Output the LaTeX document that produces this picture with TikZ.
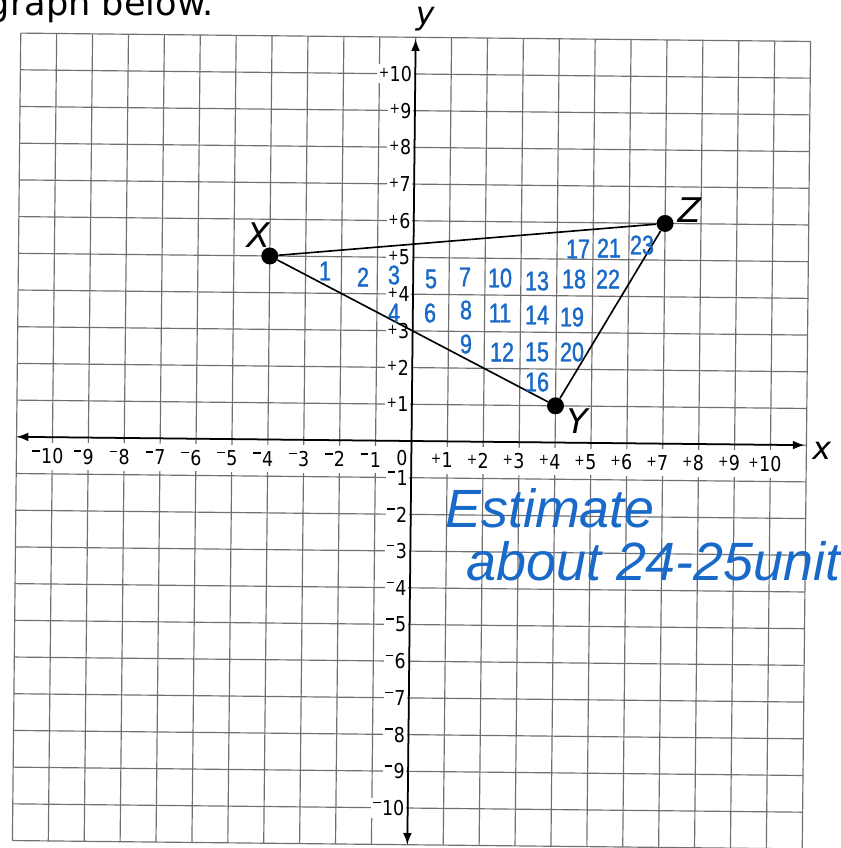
\documentclass[tikz,border=0pt]{standalone}
\usepackage{fontspec}
\setmainfont{DejaVu Sans}
\newfontfamily\labfont[FakeStretch=0.85]{DejaVu Sans}
\newfontfamily\handfont{Liberation Sans}
\newfontfamily\numfont[FakeStretch=0.8,FakeBold=1.2]{Liberation Sans}
\usetikzlibrary{arrows.meta}
\definecolor{pen}{RGB}{25,105,200}
\definecolor{gridc}{RGB}{112,112,112}
\newcommand\msgn{\rule[10.4pt]{6.4pt}{1.3pt}\kern1.2pt}
\newcommand\psgn{\raisebox{3.6pt}{\fontsize{12.5}{12.5}\selectfont +}\kern0.3pt}
\begin{document}
\begin{tikzpicture}[x=0.03cm,y=-0.03cm,
  gridline/.style={draw=gridc,line width=1pt},
  axisline/.style={line width=1.5pt,{Latex[length=10pt,width=7.5pt]}-{Latex[length=10pt,width=7.5pt]}},
  ticklab/.style={fill=white,inner xsep=1.5pt,inner ysep=1.5pt,font=\labfont\fontsize{17.5}{18}\selectfont},
  xticklab/.style={ticklab,inner ysep=5pt},
  ptdot/.style={circle,fill=black,inner sep=0pt,minimum size=14.5pt},
  ptlab/.style={font=\itshape\fontsize{29}{30}\selectfont,inner sep=0pt},
  axlab/.style={font=\itshape\fontsize{27}{28}\selectfont,inner sep=0pt},
  hw/.style={text=pen,font=\numfont\fontsize{23}{24}\selectfont,inner sep=0pt},
  hwbig/.style={text=pen,font=\handfont\itshape\fontsize{46}{48}\selectfont,inner sep=0pt,anchor=base west},
  side/.style={line width=1.4pt}]
\useasboundingbox (0,0) rectangle (840,848);
\clip (0,0) rectangle (840,848);
\node[anchor=base east,font=\fontsize{30}{31}\selectfont,inner sep=0pt] (head) at (214,16) {graph below.};
\begin{scope}[shift={(411.5,441)}, x={(1.077cm,-0.0114cm)}, y={(0.0114cm,1.101cm)}]
  \foreach \i in {-11,...,11} {
    \draw[gridline] (\i,-11) -- (\i,11);
    \draw[gridline] (-11,\i) -- (11,\i);
  }
  \foreach \i in {1,...,10} {
    \node[xticklab] (xp\i) at (\i,-0.52) {\llap{\psgn}\i};
    \node[xticklab] (xm\i) at (-\i,-0.52) {\llap{\msgn}\i};
    \node[ticklab,anchor=east] (yp\i) at (-0.04,\i) {\psgn\i};
    \node[ticklab,anchor=east] (ym\i) at (-0.04,-\i) {\msgn\i};
  }
  \node[ticklab,anchor=east] (orig) at (-0.05,-0.47) {0};
  \coordinate (xl) at (-11,0);
  \coordinate (xr) at (10.95,0);
  \coordinate (yb) at (0,-11);
  \coordinate (yt) at (0,10.95);
  \draw[axisline] (xl) -- (xr);
  \draw[axisline] (yb) -- (yt);
  \node[axlab] (xname) at (11.43,-0.16) {x};
  \node[axlab] (yname) at (0.26,11.5) {y};
  \node[ptdot] (X) at (-4,5) {};
  \node[ptdot] (Y) at (4,1) {};
  \node[ptdot] (Z) at (7,6) {};
  \draw[side] (X) -- (Z);
  \draw[side] (Z) -- (Y);
  \draw[side] (Y) -- (X);
  \node[ptlab] (Xl) at (-4.33,5.56) {X};
  \node[ptlab] (Yl) at (4.61,0.6) {Y};
  \node[ptlab] (Zl) at (7.67,6.38) {Z};
\end{scope}
\foreach \n/\px/\py in {1/325/271,2/363/277,3/394/275,4/394/313,5/431/279,6/430/313,
  7/465/277,8/466/310,9/466/344,10/500/278,11/500/313,12/502/352,13/537/281,
  14/537/315,15/537/352,16/537/382,17/578/249,18/574/279,19/572/317,20/572/352,
  21/609/248,22/608/279,23/642/245} {
  \node[hw] (n\n) at (\px,\py) {\n};
}
\node[hwbig] (est1) at (445,527) {Estimate};
\node[hwbig] (est2) at (466,580) {about 24-25unit};
\end{tikzpicture}
\end{document}
